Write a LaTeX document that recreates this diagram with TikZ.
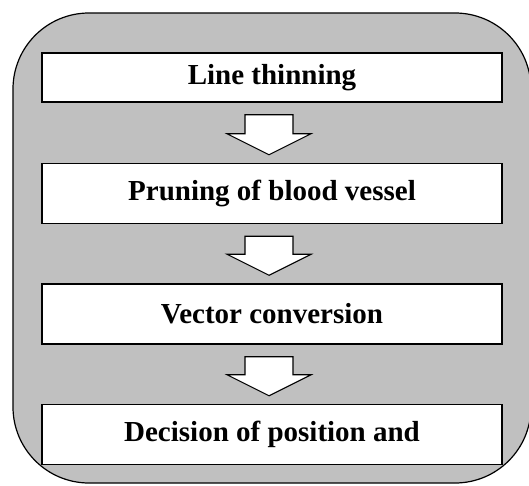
\documentclass[tikz,border=0pt]{standalone}
\usepackage{fontspec}
\setmainfont{Liberation Serif}
\usepackage{tikz}
\usetikzlibrary{positioning,calc}
\definecolor{marco}{RGB}{192,192,192}
\tikzset{
  fondo/.style={draw=black,fill=marco,line width=1.2pt,rounded corners=76pt},
  etapa/.style={draw=black,fill=white,line width=1.5pt,minimum width=460pt,
                minimum height=60pt,inner sep=0pt,font=\fontsize{29}{32}\selectfont\bfseries},
  flecha/.style={draw=black,fill=white,line width=1.1pt,line join=miter},
}

\begin{document}
\begin{tikzpicture}[x=1pt,y=-1pt,node distance=59pt]
  \useasboundingbox (0,0) rectangle (529,485);
  \draw[fondo] (13,13) rectangle (531,483);
  \node[etapa,minimum height=49pt] (b1) at (272,77.5) {Line thinning};
  \node[etapa,below=60pt of b1] (b2) {Pruning of blood vessel};
  \node[etapa,below=of b2] (b3) {Vector conversion};
  \node[etapa,below=of b3] (b4) {Decision of position and};
  % block arrows between steps
  \foreach \a/\b in {b1/b2,b2/b3,b3/b4}
    \draw[flecha] ($(\a.south)+(-27,12)$) -- ($(\a.south)+(21,12)$)
      -- ($(\b.north)+(21,-29)$) -- ($(\b.north)+(39,-29)$)
      -- ($(\b.north)+(-3,-8)$) -- ($(\b.north)+(-45,-29)$)
      -- ($(\b.north)+(-27,-29)$) -- cycle;
\end{tikzpicture}
\end{document}
